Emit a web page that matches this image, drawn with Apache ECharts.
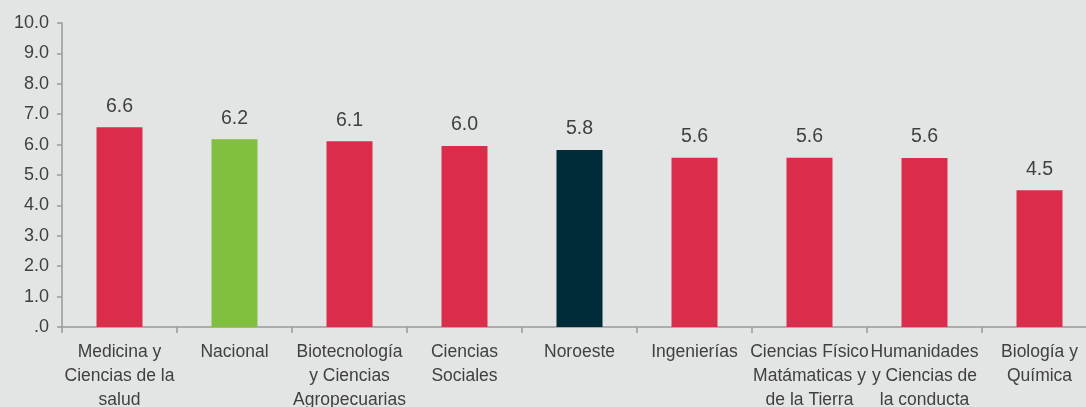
<!DOCTYPE html>
<html>
<head>
<meta charset="utf-8">
<script src="https://cdn.jsdelivr.net/npm/echarts@6/dist/echarts.min.js"></script>
<style>
html,body{margin:0;padding:0;background:#e3e4e4;}
#c{width:1086px;height:407px;}
</style>
</head>
<body>
<div id="c"></div>
<script>
const categories = [
  "Medicina y\nCiencias de la\nsalud",
  "Nacional",
  "Biotecnología\ny Ciencias\nAgropecuarias",
  "Ciencias\nSociales",
  "Noroeste",
  "Ingenierías",
  "Ciencias Físico\nMatámaticas y\nde la Tierra",
  "Humanidades\ny Ciencias de\nla conducta",
  "Biología y\nQuímica"
];
const values = [6.57, 6.18, 6.11, 5.95, 5.82, 5.57, 5.57, 5.56, 4.5];
const barColors = ["#dc2c4c", "#80bf40", "#dc2c4c", "#dc2c4c", "#002b38", "#dc2c4c", "#dc2c4c", "#dc2c4c", "#dc2c4c"];

const chart = echarts.init(document.getElementById('c'));
chart.setOption({
  backgroundColor: '#e3e4e4',
  animation: false,
  textStyle: { fontFamily: 'Liberation Sans' },
  grid: { left: 62, top: 23, width: 1035, bottom: 80, containLabel: false, outerBoundsMode: 'none' },
  xAxis: {
    type: 'category',
    data: categories,
    axisLine: { lineStyle: { color: '#999999', width: 1.5 } },
    axisTick: { show: true, length: 6, lineStyle: { color: '#999999', width: 1.5 } },
    axisLabel: { interval: 0, color: '#404040', fontSize: 17.5, lineHeight: 24, margin: 13 }
  },
  yAxis: {
    type: 'value',
    min: 0, max: 10, interval: 1,
    splitLine: { show: false },
    axisLine: { show: true, lineStyle: { color: '#999999', width: 1.5 } },
    axisTick: { show: true, length: 5, lineStyle: { color: '#999999', width: 1.5 } },
    axisLabel: {
      color: '#404040', fontSize: 18, margin: 13,
      formatter: v => v === 0 ? '.0' : v.toFixed(1)
    }
  },
  series: [{
    type: 'bar',
    barWidth: '40%',
    data: values.map((v, i) => ({ value: v, itemStyle: { color: barColors[i] } })),
    label: {
      show: true, position: 'top', distance: 11,
      color: '#404040', fontSize: 19.5,
      formatter: p => p.value.toFixed(1)
    }
  }]
});
</script>
</body>
</html>
